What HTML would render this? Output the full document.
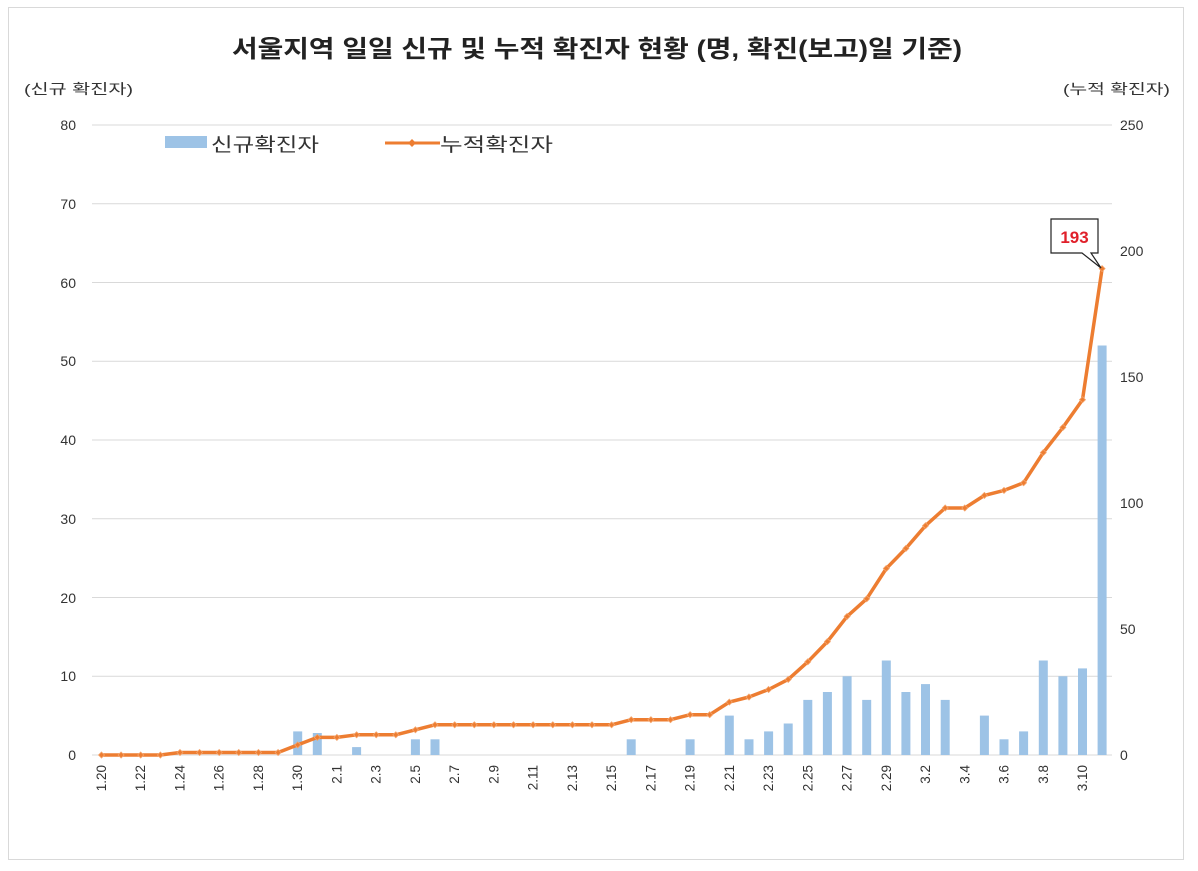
<!DOCTYPE html>
<html><head><meta charset="utf-8"><style>
body{margin:0;background:#fff}
svg text{font-family:"Liberation Sans","Noto Sans CJK KR",sans-serif;fill:#333}
</style></head><body>
<svg width="1198" height="866" viewBox="0 0 1198 866" xmlns="http://www.w3.org/2000/svg">
<defs><marker id="m" markerWidth="8" markerHeight="8" refX="4" refY="4" markerUnits="userSpaceOnUse"><path d="M4 1L7 4L4 7L1 4Z" fill="#ed7d31" stroke="#f4a46c" stroke-width="0.8"/></marker></defs>
<rect x="8.5" y="7.5" width="1175" height="852" fill="#fff" stroke="#d9d9d9"/>
<text x="232" y="57" font-size="24" font-weight="bold" textLength="730" lengthAdjust="spacingAndGlyphs" style="fill:#222">서울지역 일일 신규 및 누적 확진자 현황 (명, 확진(보고)일 기준)</text>
<text x="24" y="94" font-size="14" textLength="109" lengthAdjust="spacingAndGlyphs">(신규 확진자)</text>
<text x="1063" y="94" font-size="14" textLength="107" lengthAdjust="spacingAndGlyphs">(누적 확진자)</text>
<g stroke="#d9d9d9" stroke-width="1">
<line x1="92" y1="125" x2="1112" y2="125"/><line x1="92" y1="203.75" x2="1112" y2="203.75"/><line x1="92" y1="282.5" x2="1112" y2="282.5"/><line x1="92" y1="361.25" x2="1112" y2="361.25"/><line x1="92" y1="440" x2="1112" y2="440"/><line x1="92" y1="518.75" x2="1112" y2="518.75"/><line x1="92" y1="597.5" x2="1112" y2="597.5"/><line x1="92" y1="676.25" x2="1112" y2="676.25"/><line x1="92" y1="755" x2="1112" y2="755"/>
</g>
<g font-size="14" text-anchor="end">
<text x="76" y="130">80</text><text x="76" y="209">70</text><text x="76" y="288">60</text><text x="76" y="366">50</text><text x="76" y="445">40</text><text x="76" y="524">30</text><text x="76" y="603">20</text><text x="76" y="681">10</text><text x="76" y="760">0</text>
</g>
<g font-size="14">
<text x="1120" y="130">250</text><text x="1120" y="256">200</text><text x="1120" y="382">150</text><text x="1120" y="508">100</text><text x="1120" y="634">50</text><text x="1120" y="760">0</text>
</g>
<rect x="165" y="136" width="42" height="12" fill="#9dc3e6"/>
<text x="211" y="151" font-size="19" textLength="108" lengthAdjust="spacingAndGlyphs">신규확진자</text>
<line x1="385" y1="143" x2="440" y2="143" stroke="#ed7d31" stroke-width="3"/>
<path d="M412 139L416 143L412 147L408 143Z" fill="#ed7d31"/>
<text x="440" y="151" font-size="19" textLength="113" lengthAdjust="spacingAndGlyphs">누적확진자</text>
<g fill="#9dc3e6">
<rect x="293.2" y="731.4" width="9" height="23.6"/><rect x="312.8" y="733" width="9" height="22"/><rect x="352.1" y="747.1" width="9" height="7.9"/><rect x="410.9" y="739.3" width="9" height="15.7"/><rect x="430.5" y="739.3" width="9" height="15.7"/><rect x="626.7" y="739.3" width="9" height="15.7"/><rect x="685.6" y="739.3" width="9" height="15.7"/><rect x="724.8" y="715.6" width="9" height="39.4"/><rect x="744.5" y="739.3" width="9" height="15.7"/><rect x="764.1" y="731.4" width="9" height="23.6"/><rect x="783.7" y="723.5" width="9" height="31.5"/><rect x="803.3" y="699.9" width="9" height="55.1"/><rect x="822.9" y="692" width="9" height="63"/><rect x="842.6" y="676.25" width="9" height="78.75"/><rect x="862.2" y="699.9" width="9" height="55.1"/><rect x="881.8" y="660.5" width="9" height="94.5"/><rect x="901.4" y="692" width="9" height="63"/><rect x="921" y="684.1" width="9" height="70.9"/><rect x="940.7" y="699.9" width="9" height="55.1"/><rect x="979.9" y="715.6" width="9" height="39.4"/><rect x="999.5" y="739.3" width="9" height="15.7"/><rect x="1019.1" y="731.4" width="9" height="23.6"/><rect x="1038.8" y="660.5" width="9" height="94.5"/><rect x="1058.4" y="676.25" width="9" height="78.75"/><rect x="1078" y="668.4" width="9" height="86.6"/><rect x="1097.6" y="345.5" width="9" height="409.5"/>
</g>
<polyline fill="none" stroke="#ed7d31" stroke-width="3.5" stroke-linejoin="round" marker-start="url(#m)" marker-mid="url(#m)" marker-end="url(#m)" points="101.5,755 121.1,755 140.7,755 160.4,755 180,752.5 199.6,752.5 219.2,752.5 238.8,752.5 258.5,752.5 278.1,752.5 297.7,744.9 317.3,737.4 336.9,737.4 356.6,734.8 376.2,734.8 395.8,734.8 415.4,729.8 435,724.8 454.7,724.8 474.3,724.8 493.9,724.8 513.5,724.8 533.1,724.8 552.8,724.8 572.4,724.8 592,724.8 611.6,724.8 631.2,719.7 650.9,719.7 670.5,719.7 690.1,714.7 709.7,714.7 729.3,702.1 749,697 768.6,689.5 788.2,679.4 807.8,661.8 827.4,641.6 847.1,616.4 866.7,598.8 886.3,568.5 905.9,548.4 925.5,525.7 945.2,508 964.8,508 984.4,495.4 1004,490.4 1023.6,482.8 1043.3,452.6 1062.9,427.4 1082.5,399.7 1102.1,268.6"/>
<path d="M1051 219H1098V253H1091L1101 268L1082 253H1051Z" fill="#fff" stroke="#222" stroke-width="1.2"/>
<text x="1074.5" y="243" font-size="17" font-weight="bold" text-anchor="middle" style="fill:#e0202a">193</text>
<g font-size="13.5">
<text transform="translate(106,765) rotate(-90)" text-anchor="end">1.20</text>
<text transform="translate(145.2,765) rotate(-90)" text-anchor="end">1.22</text>
<text transform="translate(184.5,765) rotate(-90)" text-anchor="end">1.24</text>
<text transform="translate(223.7,765) rotate(-90)" text-anchor="end">1.26</text>
<text transform="translate(263,765) rotate(-90)" text-anchor="end">1.28</text>
<text transform="translate(302.2,765) rotate(-90)" text-anchor="end">1.30</text>
<text transform="translate(341.4,765) rotate(-90)" text-anchor="end">2.1</text>
<text transform="translate(380.7,765) rotate(-90)" text-anchor="end">2.3</text>
<text transform="translate(419.9,765) rotate(-90)" text-anchor="end">2.5</text>
<text transform="translate(459.2,765) rotate(-90)" text-anchor="end">2.7</text>
<text transform="translate(498.4,765) rotate(-90)" text-anchor="end">2.9</text>
<text transform="translate(537.6,765) rotate(-90)" text-anchor="end">2.11</text>
<text transform="translate(576.9,765) rotate(-90)" text-anchor="end">2.13</text>
<text transform="translate(616.1,765) rotate(-90)" text-anchor="end">2.15</text>
<text transform="translate(655.4,765) rotate(-90)" text-anchor="end">2.17</text>
<text transform="translate(694.6,765) rotate(-90)" text-anchor="end">2.19</text>
<text transform="translate(733.8,765) rotate(-90)" text-anchor="end">2.21</text>
<text transform="translate(773.1,765) rotate(-90)" text-anchor="end">2.23</text>
<text transform="translate(812.3,765) rotate(-90)" text-anchor="end">2.25</text>
<text transform="translate(851.6,765) rotate(-90)" text-anchor="end">2.27</text>
<text transform="translate(890.8,765) rotate(-90)" text-anchor="end">2.29</text>
<text transform="translate(930,765) rotate(-90)" text-anchor="end">3.2</text>
<text transform="translate(969.3,765) rotate(-90)" text-anchor="end">3.4</text>
<text transform="translate(1008.5,765) rotate(-90)" text-anchor="end">3.6</text>
<text transform="translate(1047.8,765) rotate(-90)" text-anchor="end">3.8</text>
<text transform="translate(1087,765) rotate(-90)" text-anchor="end">3.10</text>
</g>
</svg>
</body></html>
